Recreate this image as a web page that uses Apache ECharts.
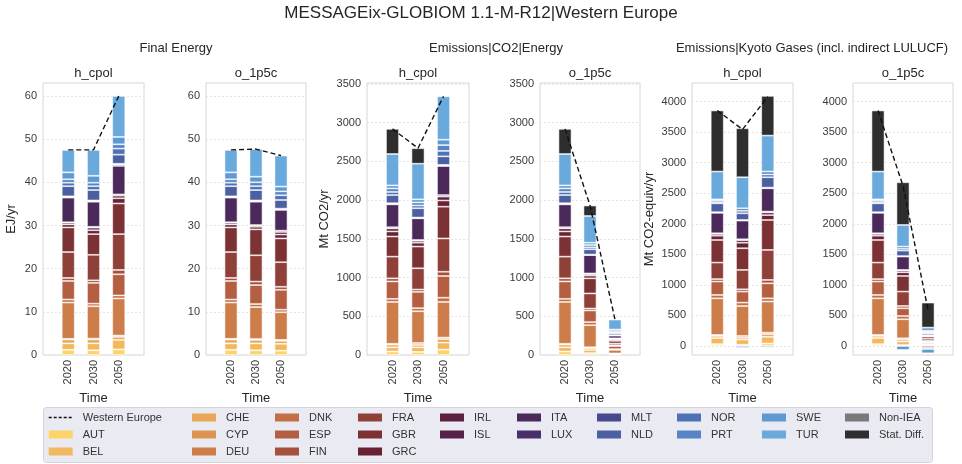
<!DOCTYPE html>
<html><head><meta charset="utf-8">
<script src="https://cdn.jsdelivr.net/npm/echarts@6/dist/echarts.min.js"></script>
<style>html,body{margin:0;padding:0;background:#fff}#c{width:962px;height:464px}</style>
</head><body><div id="c"></div>
<script>
// ---------- data ----------
const countries = ['AUT','BEL','CHE','CYP','DEU','DNK','ESP','FIN','FRA','GBR','GRC','IRL','ISL','ITA','LUX','MLT','NLD','NOR','PRT','SWE','TUR','Non-IEA','Stat. Diff.'];
const colors = ['#fdd468','#f2b85e','#eaa657','#dd9352','#cc7d49','#c46e46','#b45e42','#a5513e','#8f4139','#7c3134','#682233','#5d2140','#552348','#4b295b','#48306c','#46498d','#4b5fa2','#4f72b4','#5585c4','#5e99d3','#69a9dc','#7a7a7a','#2e2e2e'];
const xCats = ['', '2020', '2030', '2050', ''];
const lineName = 'Western Europe';

// Final Energy (EJ/yr)
const feH2020 = [1.2,1.5,0.9,0.15,8.4,0.7,4.3,0.7,6.0,5.7,0.7,0.4,0.1,5.7,0.2,0.1,2.35,0.8,0.8,1.6,5.2,0,0];
const feH2030 = [1.1,1.6,0.9,0.2,7.5,0.6,4.8,0.6,5.9,4.8,0.9,0.6,0.2,5.8,0.2,0.1,2.4,0.9,0.8,1.6,6.0,0,0];
const feH2050 = [1.3,2.2,0.7,0.3,8.6,0.7,4.9,1.0,8.3,7.1,1.2,0.6,0.3,6.6,0.3,0.2,2.1,1.4,1.0,1.7,9.5,0,0];
const feO2020 = [1.2,1.5,0.9,0.15,8.4,0.7,4.3,0.7,6.0,5.7,0.7,0.4,0.1,5.7,0.2,0.1,2.35,0.8,0.8,1.6,5.2,0,0];
const feO2030 = [1.1,1.6,0.8,0.2,7.4,0.7,4.4,0.8,6.1,6.0,0.6,0.3,0.1,5.4,0.2,0.1,2.4,0.9,0.9,1.3,6.4,0,0];
const feO2050 = [1.0,1.6,0.7,0.2,6.4,0.6,4.6,0.7,5.7,5.5,0.9,0.6,0.3,4.8,0.2,0.1,2.0,1.1,0.9,1.1,7.2,0,0];
const feHTotal = [47.5, 47.5, 60.0];
const feOTotal = [47.5, 47.7, 46.2];

// Emissions|CO2|Energy (Mt CO2/yr)
const co2H2020 = [45,55,35,10,540,40,225,40,280,260,65,40,15,295,10,5,105,40,45,40,405,0,325];
const co2H2030 = [40,60,30,25,410,40,210,30,275,280,50,25,10,280,5,5,120,35,40,40,460,0,200];
const co2H2050 = [70,90,45,20,460,55,280,55,430,410,80,50,20,375,10,5,110,70,75,70,560,0,0];
const co2O2020 = [45,55,35,10,540,40,225,40,280,260,65,40,15,295,10,5,105,40,45,40,405,0,325];
const co2O2030 = [25,40,25,10,285,40,150,25,195,195,35,20,8,237,4,3,68,25,30,30,345,0,135];
const co2O2050 = [5,8,5,3,45,10,40,10,22,35,15,12,5,35,3,2,22,15,17,20,128,0,0];
const co2HTotal = [2920, 2670, 3340];
const co2OTotal = [2920, 1930, 457];

// Emissions|Kyoto Gases (Mt CO2-equiv/yr)
const kyH2020 = [30,100,35,15,600,55,220,40,270,370,70,30,10,335,5,5,145,20,30,15,455,0,1000];
const kyH2030 = [20,85,30,29,490,56,180,38,317,355,90,42,15,305,5,5,110,40,42,-30,508,0,802];
const kyH2050 = [40,110,45,23,510,52,246,55,491,490,80,45,13,382,5,5,170,45,48,-25,589,0,650];
const kyO2020 = [30,100,35,15,600,55,220,40,270,370,70,30,10,335,5,5,145,20,30,15,455,0,1000];
const kyO2030 = [15,60,30,21,311,54,126,38,235,256,60,29,10,218,4,4,90,30,36,-65,354,0,699];
const kyO2050 = [5,15,8,5,20,15,15,-30,35,35,12,10,5,30,2,2,15,-20,17,-70,55,0,409];
const kyHTotal = [3855, 3545, 4080];
const kyOTotal = [3855, 2620, 592];

// tick labels
const feTicks = [0,10,20,30,40,50,60];
const co2Ticks = [0,500,1000,1500,2000,2500,3000,3500];
const kyTicks = [0,500,1000,1500,2000,2500,3000,3500,4000];

// ---------- layout ----------
const FONT = "'Liberation Sans', Arial, 'DejaVu Sans', sans-serif";
const gridTop = 83, gridH = 272;
const panels = [
  {left:43,  width:101, title:'h_cpol', vals:[feH2020,feH2030,feH2050], tot:feHTotal, ymin:0, ymax:63, ticks:feTicks, yName:'EJ/yr', nameGap:25},
  {left:206, width:100, title:'o_1p5c', vals:[feO2020,feO2030,feO2050], tot:feOTotal, ymin:0, ymax:63, ticks:feTicks, yName:'', nameGap:25},
  {left:367, width:102, title:'h_cpol', vals:[co2H2020,co2H2030,co2H2050], tot:co2HTotal, ymin:0, ymax:3512, ticks:co2Ticks, yName:'Mt CO2/yr', nameGap:36},
  {left:540, width:100, title:'o_1p5c', vals:[co2O2020,co2O2030,co2O2050], tot:co2OTotal, ymin:0, ymax:3512, ticks:co2Ticks, yName:'', nameGap:36},
  {left:692, width:101, title:'h_cpol', vals:[kyH2020,kyH2030,kyH2050], tot:kyHTotal, ymin:-148, ymax:4305, ticks:kyTicks, yName:'Mt CO2-equiv/yr', nameGap:36},
  {left:853, width:100, title:'o_1p5c', vals:[kyO2020,kyO2030,kyO2050], tot:kyOTotal, ymin:-148, ymax:4305, ticks:kyTicks, yName:'', nameGap:36}
];

const grid = [], xAxis = [], yAxis = [], series = [], graphic = [];
panels.forEach((p, pi) => {
  grid.push({left:p.left, top:gridTop, width:p.width, height:gridH, show:true, borderColor:'#d6d6d6', borderWidth:1, backgroundColor:'transparent', containLabel:false});
  xAxis.push({type:'category', gridIndex:pi, data:xCats, boundaryGap:false,
    axisLine:{show:false}, axisTick:{show:false}, splitLine:{show:false},
    axisLabel:{rotate:90, interval:0, margin:5, fontSize:11, color:'#3a3a3a', fontFamily:FONT},
    name:'Time', nameLocation:'middle', nameGap:31, nameTextStyle:{fontSize:13, color:'#262626', fontFamily:FONT}});
  yAxis.push({type:'value', gridIndex:pi, min:p.ymin, max:p.ymax,
    axisLine:{show:false},
    axisTick:{show:false, customValues:p.ticks},
    axisLabel:{customValues:p.ticks, formatter:v => String(v), fontSize:11, color:'#3a3a3a', margin:6, fontFamily:FONT},
    splitLine:{show:true, lineStyle:{color:'#e6e6e6', type:[2,2], width:1}},
    name:p.yName, nameLocation:'middle', nameRotate:90, nameGap:p.nameGap,
    nameTextStyle:{fontSize:13, color:'#262626', fontFamily:FONT}});
  countries.forEach((c, ci) => {
    const d = [null].concat(p.vals.map(v => v[ci] === 0 ? null : v[ci])).concat([null]);
    series.push({type:'bar', name:c, xAxisIndex:pi, yAxisIndex:pi, stack:'s'+pi, barWidth:13,
      data:d, itemStyle:{color:colors[ci], borderColor:'rgba(255,255,255,0.7)', borderWidth:0.8},
      emphasis:{disabled:true}, silent:true});
  });
  series.push({type:'line', name:lineName, xAxisIndex:pi, yAxisIndex:pi,
    data:[null].concat(p.tot).concat([null]), symbol:'none', z:10,
    itemStyle:{color:'#111'},
    lineStyle:{color:'#111', width:1.4, type:[5,3]}, emphasis:{disabled:true}, silent:true});
  graphic.push({type:'text', x:p.left + p.width/2, y:73, style:{text:p.title, fontSize:13, fill:'#262626', align:'center', verticalAlign:'middle', fontFamily:FONT}});
});

graphic.push({type:'text', x:481, y:13, style:{text:'MESSAGEix-GLOBIOM 1.1-M-R12|Western Europe', fontSize:17, fill:'#262626', align:'center', verticalAlign:'middle', fontFamily:FONT}});
graphic.push({type:'text', x:176, y:48, style:{text:'Final Energy', fontSize:13, fill:'#262626', align:'center', verticalAlign:'middle', fontFamily:FONT}});
graphic.push({type:'text', x:496, y:48, style:{text:'Emissions|CO2|Energy', fontSize:13, fill:'#262626', align:'center', verticalAlign:'middle', fontFamily:FONT}});
graphic.push({type:'text', x:812, y:48, style:{text:'Emissions|Kyoto Gases (incl. indirect LULUCF)', fontSize:13, fill:'#262626', align:'center', verticalAlign:'middle', fontFamily:FONT}});
graphic.push({type:'rect', z:0, shape:{x:43.5, y:407.5, width:889, height:55, r:3}, style:{fill:'#eaeaf2', stroke:'#d3d3db', lineWidth:1}});

const legendCols = [
  {left:48,  names:[lineName,'AUT','BEL']},
  {left:192, names:['CHE','CYP','DEU']},
  {left:275, names:['DNK','ESP','FIN']},
  {left:358, names:['FRA','GBR','GRC']},
  {left:440, names:['IRL','ISL']},
  {left:517, names:['ITA','LUX']},
  {left:597, names:['MLT','NLD']},
  {left:677, names:['NOR','PRT']},
  {left:762, names:['SWE','TUR']},
  {left:845, names:['Non-IEA','Stat. Diff.']}
];
const legend = legendCols.map(col => ({
  orient:'vertical', left:col.left, top:411, padding:0, itemWidth:24, itemHeight:8, itemGap:4,
  selectedMode:false, z:5,
  textStyle:{fontSize:11, color:'#333', fontFamily:FONT, lineHeight:13, padding:[0,0,0,5]},
  data: col.names.map(n => n === lineName
    ? {name:n, itemStyle:{color:'transparent', opacity:0, borderWidth:0}, lineStyle:{color:'#111', width:1.4, type:[3,2]}}
    : {name:n, icon:'rect', itemStyle:{borderWidth:0}})
}));

const chart = echarts.init(document.getElementById('c'), null, {renderer:'canvas'});
chart.setOption({
  animation:false,
  backgroundColor:'#ffffff',
  textStyle:{fontFamily:FONT},
  grid, xAxis, yAxis, series, legend, graphic,
  tooltip:{show:false}
});
</script>
</body></html>
